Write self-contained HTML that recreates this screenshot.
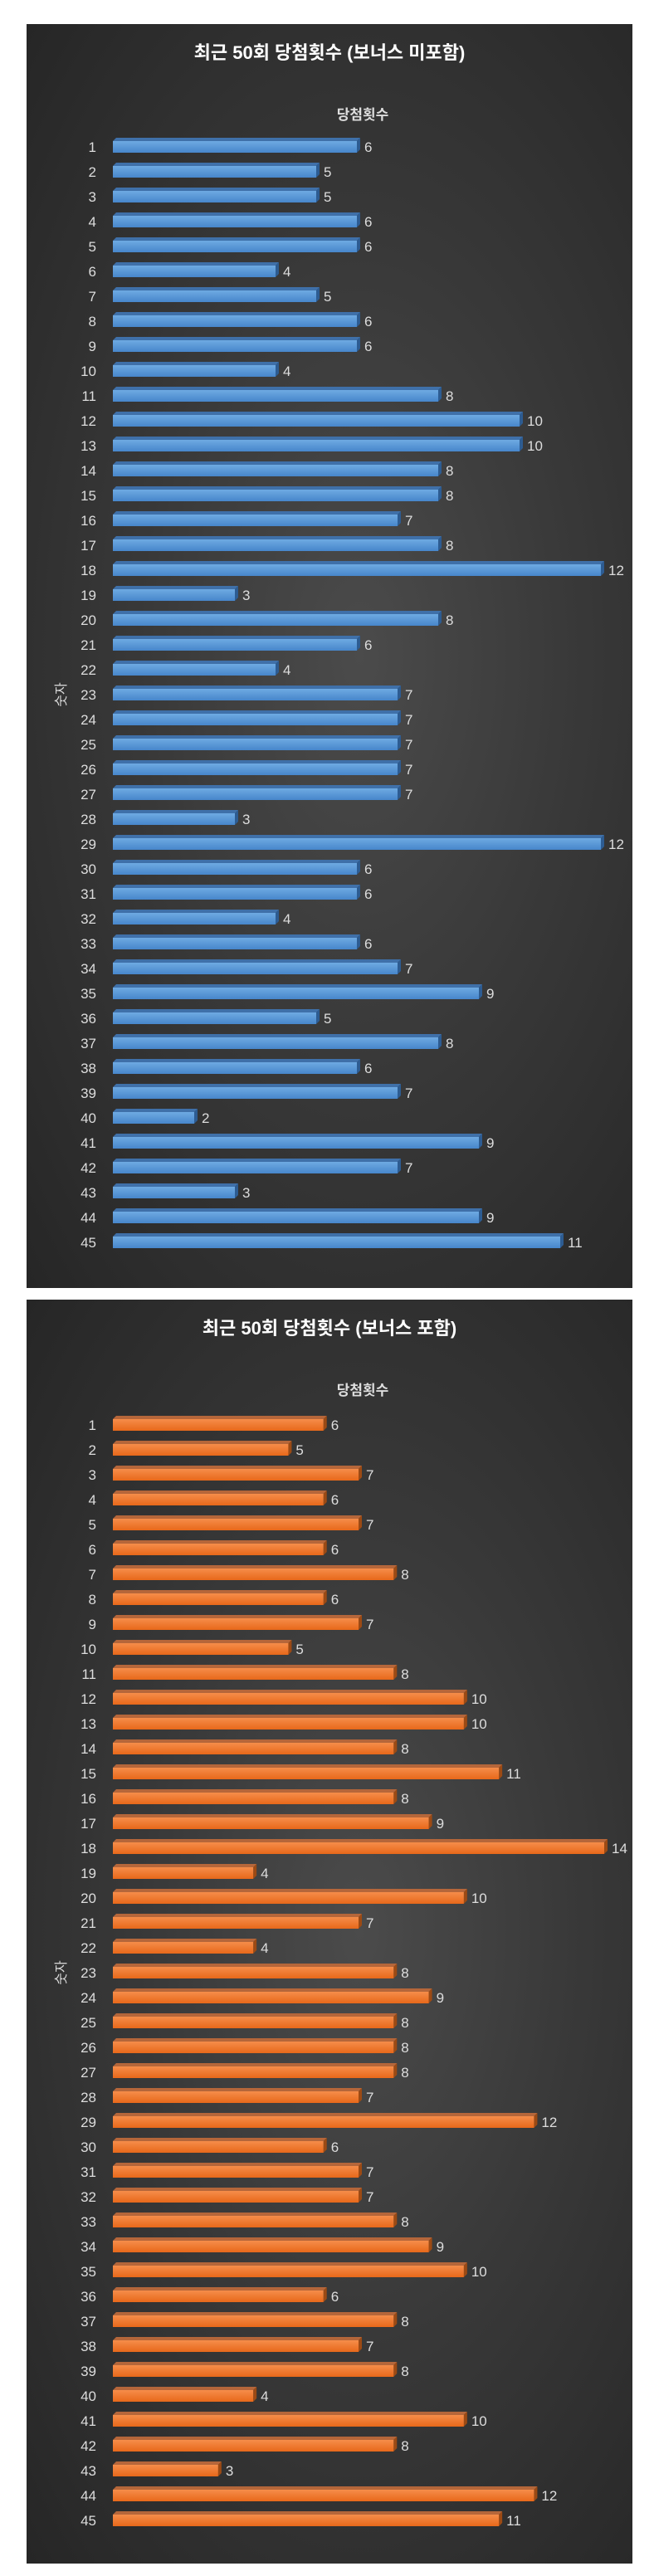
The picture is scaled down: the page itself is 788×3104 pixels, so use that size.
<!DOCTYPE html>
<html><head><meta charset="utf-8">
<style>
html,body{margin:0;padding:0;background:#fff;width:788px;height:3104px;overflow:hidden}
.panel{position:absolute;left:32px;width:730px;height:1523px;background:radial-gradient(ellipse at 55% 50%,#4b4b4b 0%,#393939 45%,#262626 100%)}
svg{position:absolute;left:0;top:0}
text{font-family:"Liberation Sans Narrow","Liberation Sans","Noto Sans CJK KR",sans-serif}
</style></head><body>
<div class="panel" style="top:29px"><svg id="c1" width="730" height="1523"></svg></div>
<div class="panel" style="top:1566px"><svg id="c2" width="730" height="1523"></svg></div>
<script>
const categories=[];for(let i=1;i<=45;i++)categories.push(String(i));
const valuesNoBonus=[6,5,5,6,6,4,5,6,6,4,8,10,10,8,8,7,8,12,3,8,6,4,7,7,7,7,7,3,12,6,6,4,6,7,9,5,8,6,7,2,9,7,3,9,11];
const valuesWithBonus=[6,5,7,6,7,6,8,6,7,5,8,10,10,8,11,8,9,14,4,10,7,4,8,9,8,8,8,7,12,6,7,7,8,9,10,6,8,7,8,4,10,8,3,12,11];
const titles=["최근 50회 당첨횟수 (보너스 미포함)","최근 50회 당첨횟수 (보너스 포함)"];
const NS="http://www.w3.org/2000/svg";
function mk(p,tag,a){const e=document.createElementNS(NS,tag);for(const k in a)e.setAttribute(k,a[k]);p.appendChild(e);return e;}
function draw(id,vals,title,maxV,maxW,y0,cols,key){
 const s=document.getElementById(id);
 const d=mk(s,'defs',{});
 const g=mk(d,'linearGradient',{id:'g'+id,x1:0,y1:0,x2:0,y2:1});
 mk(g,'stop',{offset:'0',  'stop-color':cols[0]});
 mk(g,'stop',{offset:'1','stop-color':cols[1]});
 const t=mk(s,'text',{x:365,y:42,'text-anchor':'middle',fill:'#fff','font-size':22,'font-weight':'bold'});
 t.textContent=title;
 
 
 const st=mk(s,'text',{x:405,y:115,'text-anchor':'middle',fill:'#ddd','font-size':17,'font-weight':'bold'});
 st.textContent='당첨횟수';
 
 
 const at=mk(s,'text',{x:0,y:0,'text-anchor':'middle',fill:'#ddd','font-size':16,transform:'translate(47,'+(y0+22*30)+') rotate(-90)'});
 at.textContent='숫자';
 
 
 const xs=v=>v*maxW/maxV;
 const x0=104;
 vals.forEach((v,i)=>{
  const cy=y0+i*30, w=xs(v), top=cy-7;
  const grp=mk(s,'g',{});
  
  
  mk(grp,'polygon',{points:`${x0},${top} ${x0+4},${top-4} ${x0+w+4},${top-4} ${x0+w},${top}`,fill:cols[2]});
  mk(grp,'polygon',{points:`${x0+w},${top} ${x0+w+4},${top-4} ${x0+w+4},${top+10} ${x0+w},${top+14}`,fill:cols[3]});
  mk(grp,'rect',{x:x0,y:top,width:w,height:14,fill:'url(#g'+id+')'});
  const lb=mk(s,'text',{x:84,y:cy+6,'text-anchor':'end',fill:'#ddd','font-size':17});
  lb.textContent=categories[i];
  
  
  const vl=mk(s,'text',{x:x0+w+9,y:cy+6,fill:'#ddd','font-size':17});
  vl.textContent=v;
  
  
 });
}
draw('c1',valuesNoBonus,titles[0],12,588,148,['#6eaae2','#4786cb','#3f70a9','#2d5c92'],'a');
draw('c2',valuesWithBonus,titles[1],14,592,151,['#f68d4a','#e8681a','#b5663a','#9c4a14'],'b');
</script>
</body></html>
